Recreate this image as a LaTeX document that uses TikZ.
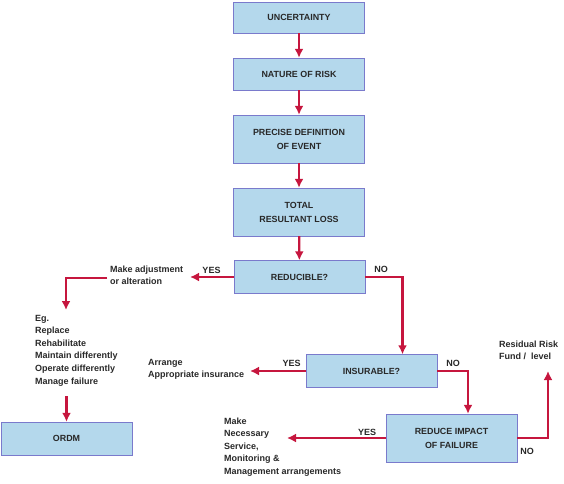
\documentclass[tikz,border=0pt]{standalone}
\usepackage{fontspec}
\setmainfont{Liberation Sans}
\usetikzlibrary{arrows.meta}
\definecolor{boxfill}{RGB}{180,216,236}
\definecolor{boxline}{RGB}{122,122,204}
\definecolor{flowred}{RGB}{198,22,62}
\definecolor{ink}{RGB}{40,40,40}

\begin{document}
\begin{tikzpicture}[x = 1pt, y = -1pt, text = ink,
    box/.style = {draw = boxline, fill = boxfill, minimum width = 131pt, inner sep = 0pt,
        align = center, font = \bfseries\fontsize{8.9}{14}\selectfont},
    note/.style = {anchor = base west, align = left, inner sep = 0pt,
        font = \bfseries\fontsize{9}{12.6}\selectfont},
    answer/.style = {anchor = base, inner sep = 0pt, font = \bfseries\fontsize{9}{11}\selectfont},
    flow/.style = {draw = flowred, line width = 2.2pt, -{Latex[length = 9pt, width = 9pt]}}]
        \useasboundingbox (0,0) rectangle (564,483);
        \node[box, minimum height = 31pt] (unc) at (299,17.5) {UNCERTAINTY};
        \node[box, minimum height = 32pt] (risk) at (299,74) {NATURE OF RISK};
        \node[box, minimum height = 48pt] (event) at (299,139) {PRECISE DEFINITION\\OF EVENT};
        \node[box, minimum height = 48pt] (loss) at (299,212) {TOTAL\\RESULTANT LOSS};
        \node[box, minimum height = 33pt] (red) at (299.5,277) {REDUCIBLE?};
        \node[box, minimum height = 33pt] (ins) at (371.5,371) {INSURABLE?};
        \node[box, minimum height = 48pt] (rif) at (451.5,438) {REDUCE IMPACT\\OF FAILURE};
        \node[box, minimum height = 33pt] (ordm) at (66.5,438.5) {ORDM};
        \node[note] (adj) at (110,284.6) {Make adjustment\\or alteration};
        \node[note] (eg) at (35,384) {Eg.\\Replace\\Rehabilitate\\Maintain differently\\Operate differently\\Manage failure};
        \node[note] (arr) at (148,377.6) {Arrange\\Appropriate insurance};
        \node[note] (make) at (224,474.4) {Make\\Necessary\\Service,\\Monitoring \&\\Management arrangements};
        \node[note] (fund) at (499,359.6) {Residual Risk\\Fund /\ \ level};
        \node[answer] (yesred) at (211.5,273) {YES};
        \node[answer] (nored) at (381,272) {NO};
        \node[answer] (yesins) at (291.5,366) {YES};
        \node[answer] (noins) at (453,366) {NO};
        \node[answer] (yesrif) at (367,435) {YES};
        \node[answer] (norif) at (527,454) {NO};
        \coordinate (adjtip) at (190,277);
        \coordinate (egtip) at (66,310);
        \coordinate (instip) at (250,371);
        \coordinate (maketip) at (287,438);
        \coordinate (fundtip) at (548,371);
        \draw[flow] (unc) -- (risk);
        \draw[flow] (risk) -- (event);
        \draw[flow] (event) -- (loss);
        \draw[flow] (loss) -- (red);
        \draw[flow] (red.west) -- (adjtip);
        \draw[flow] ([xshift = -3pt, yshift = -3pt]adj.west) -| (egtip);
        \draw[flow] ([yshift = -10pt]eg.south -| ordm.north) -- (ordm.north);
        \draw[flow] (red.east) -| ([xshift = 31pt]ins.north);
        \draw[flow] (ins.west) -- (instip);
        \draw[flow] (ins.east) -| ([xshift = 16.5pt]rif.north);
        \draw[flow] (rif.west) -- (maketip);
        \draw[flow] (rif.east) -| (fundtip);
    \end{tikzpicture}
\end{document}
